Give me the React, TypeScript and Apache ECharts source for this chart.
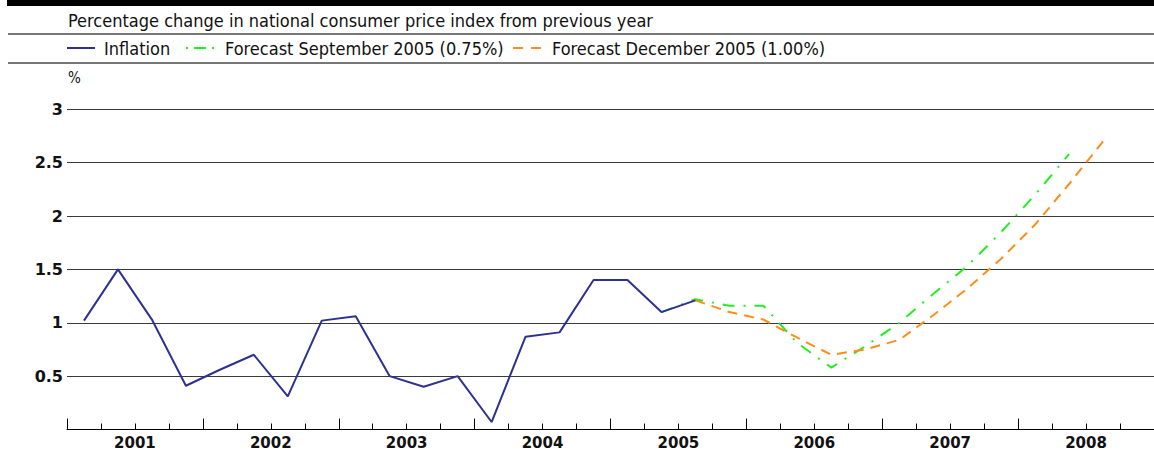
import React, { useEffect, useRef } from 'react';
import * as echarts from 'echarts';

const titleText = 'Percentage change in national consumer price index from previous year';
const unitText = '%';
const years = ['2001', '2002', '2003', '2004', '2005', '2006', '2007', '2008'];
const quarterNames = ['Q1', 'Q2', 'Q3', 'Q4'];
const quarters = years.flatMap((y) => quarterNames.map((q) => `${y} ${q}`));

const seriesNames = ['Inflation', 'Forecast September 2005 (0.75%)', 'Forecast December 2005 (1.00%)'];
const seriesColors = ['#2e3192', '#22ee22', '#ff8c1a'];

// Inflation, from 2001 Q1
const inflation = [1.02, 1.5, 1.03, 0.41, 0.56, 0.7, 0.31, 1.02, 1.06, 0.5, 0.4, 0.5, 0.07, 0.87, 0.91, 1.4, 1.4, 1.1, 1.21];
const inflationStart = '2001 Q1';
// Forecast September 2005, from 2005 Q2
const forecastSep = [1.1, 1.22, 1.16, 1.16, 0.81, 0.58, 0.78, 1.0, 1.27, 1.53, 1.85, 2.2, 2.58];
const forecastSepStart = '2005 Q2';
// Forecast December 2005, from 2005 Q3
const forecastDec = [1.21, 1.1, 1.03, 0.86, 0.7, 0.75, 0.84, 1.07, 1.32, 1.6, 1.92, 2.3, 2.7];
const forecastDecStart = '2005 Q3';

const yMin = 0;
const yMax = 3;
const yInterval = 0.5;

function place(start: string, values: number[]) {
  const i0 = quarters.indexOf(start);
  return quarters.map((_, i) => (i >= i0 && i < i0 + values.length ? values[i - i0] : '-'));
}

const textFont = '"DejaVu Sans Condensed", "DejaVu Sans", sans-serif';
const boldFont = '"DejaVu Sans", sans-serif';

export default function App() {
  const ref = useRef<HTMLDivElement>(null);
  useEffect(() => {
    if (!ref.current) return;
    const chart = echarts.init(ref.current, null, { renderer: 'svg' });
    const legendY = 48;
    const headFont = `18px ${textFont}`;
    const option: any = {
      animation: false,
      backgroundColor: '#ffffff',
      grid: { left: 67, right: -3, top: 109.3, bottom: 26.5, containLabel: false },
      xAxis: [
        {
          type: 'category',
          data: quarters,
          position: 'bottom',
          boundaryGap: true,
          axisLine: { show: true, lineStyle: { color: '#000', width: 1 } },
          axisTick: { show: true, inside: true, length: 6, interval: 0, lineStyle: { color: '#000', width: 1 } },
          axisLabel: { show: false },
          splitLine: { show: false },
        },
        {
          type: 'category',
          data: years,
          position: 'bottom',
          boundaryGap: true,
          axisLine: { show: false },
          axisTick: { show: true, inside: true, length: 11, interval: 0, lineStyle: { color: '#000', width: 1 } },
          axisLabel: {
            show: true,
            interval: 0,
            margin: 6,
            color: '#111',
            fontFamily: boldFont,
            fontWeight: 'bold',
            fontSize: 15,
          },
          splitLine: { show: false },
        },
      ],
      yAxis: {
        type: 'value',
        min: yMin,
        max: yMax,
        interval: yInterval,
        axisLine: { show: false },
        axisTick: { show: false },
        axisLabel: {
          margin: 4,
          color: '#111',
          fontFamily: boldFont,
          fontWeight: 'bold',
          fontSize: 16,
          formatter: (v: number) => (v === 0 ? '' : String(v)),
        },
        splitLine: { show: true, lineStyle: { color: '#3a3a3a', width: 1 } },
      },
      series: [
        {
          name: seriesNames[0],
          type: 'line',
          xAxisIndex: 0,
          data: place(inflationStart, inflation),
          showSymbol: false,
          symbol: 'none',
          lineStyle: { color: seriesColors[0], width: 2 },
          z: 3,
        },
        {
          name: seriesNames[1],
          type: 'line',
          xAxisIndex: 0,
          data: place(forecastSepStart, forecastSep),
          showSymbol: false,
          symbol: 'none',
          lineStyle: { color: seriesColors[1], width: 2, type: [12, 9, 2, 9] },
          z: 2,
        },
        {
          name: seriesNames[2],
          type: 'line',
          xAxisIndex: 0,
          data: place(forecastDecStart, forecastDec),
          showSymbol: false,
          symbol: 'none',
          lineStyle: { color: seriesColors[2], width: 2, type: [10, 7] },
          z: 2,
        },
      ],
      graphic: [
        { type: 'rect', z: 100, shape: { x: 7, y: 0, width: 1160, height: 6 }, style: { fill: '#000' } },
        { type: 'line', shape: { x1: 8, y1: 34, x2: 1160, y2: 34 }, style: { stroke: '#777', lineWidth: 2 } },
        { type: 'line', shape: { x1: 8, y1: 63, x2: 1160, y2: 63 }, style: { stroke: '#777', lineWidth: 2 } },
        {
          type: 'text',
          x: 68,
          y: 20,
          style: { text: titleText, font: headFont, fill: '#111', textVerticalAlign: 'middle' },
        },
        { type: 'line', shape: { x1: 67, y1: legendY, x2: 95, y2: legendY }, style: { stroke: seriesColors[0], lineWidth: 2 } },
        {
          type: 'text',
          x: 104,
          y: legendY,
          style: { text: seriesNames[0], font: headFont, fill: '#111', textVerticalAlign: 'middle' },
        },
        {
          type: 'line',
          shape: { x1: 186, y1: legendY, x2: 215, y2: legendY },
          style: { stroke: seriesColors[1], lineWidth: 2, lineDash: [2, 6, 12, 6, 2, 6] },
        },
        {
          type: 'text',
          x: 225,
          y: legendY,
          style: { text: seriesNames[1], font: headFont, fill: '#111', textVerticalAlign: 'middle' },
        },
        {
          type: 'line',
          shape: { x1: 513, y1: legendY, x2: 541, y2: legendY },
          style: { stroke: seriesColors[2], lineWidth: 2, lineDash: [10, 8] },
        },
        {
          type: 'text',
          x: 552,
          y: legendY,
          style: { text: seriesNames[2], font: headFont, fill: '#111', textVerticalAlign: 'middle' },
        },
        {
          type: 'text',
          x: 68,
          y: 78,
          style: { text: unitText, font: `15px ${textFont}`, fill: '#111', textVerticalAlign: 'middle' },
        },
      ],
    };
    chart.setOption(option);
    return () => chart.dispose();
  }, []);
  return (
    <div
      ref={ref}
      style={{ position: 'absolute', left: 0, top: 0, width: 1154, height: 456, overflow: 'hidden' }}
    />
  );
}
